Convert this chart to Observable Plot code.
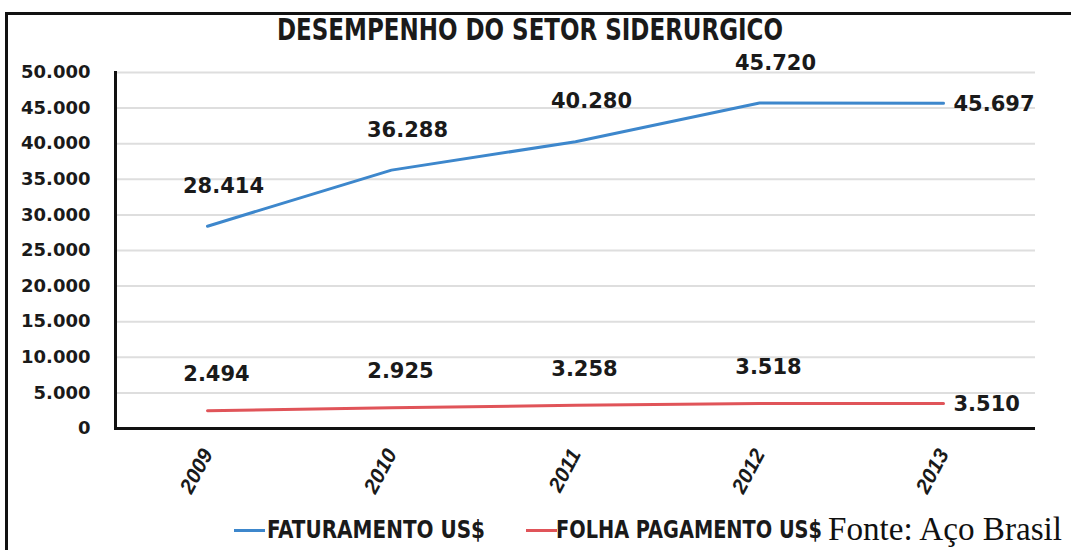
<!DOCTYPE html>
<html><head><meta charset="utf-8">
<script src="https://cdn.jsdelivr.net/npm/d3@7"></script>
<script src="https://cdn.jsdelivr.net/npm/@observablehq/plot@0.6"></script>
<style>
body{margin:0;background:#fff;}
#wrap{position:relative;width:1071px;height:550px;overflow:hidden;background:#fff;}
#frame{position:absolute;left:5px;top:12px;width:1100px;height:600px;border-top:3px solid #111;border-left:3px solid #111;}
#title{position:absolute;top:13px;left:277px;font:bold 30px "DejaVu Sans Condensed","DejaVu Sans",sans-serif;color:#1a1a1a;white-space:nowrap;line-height:1.1;transform-origin:0 0;}
#chart{position:absolute;left:0;top:0;}
.lg{position:absolute;font:bold 24px "DejaVu Sans Condensed","DejaVu Sans",sans-serif;color:#1a1a1a;white-space:nowrap;line-height:1;transform-origin:0 0;}
.sw{position:absolute;height:3px;}
#fonte{position:absolute;left:828px;top:513px;font:33px "Liberation Serif","DejaVu Serif",serif;color:#111;white-space:nowrap;line-height:1;transform-origin:0 0;}
#chart g[aria-label="y-axis tick label"] text{font-family:"DejaVu Sans",sans-serif;font-weight:bold;font-size:18px;fill:#1a1a1a;}
#chart g[aria-label="x-axis tick label"] text{font-family:"Liberation Sans","Arial",sans-serif;font-weight:bold;font-style:italic;font-size:21px;fill:#1a1a1a;}
#chart .dlabel text{font-family:"DejaVu Sans",sans-serif;font-weight:bold;font-size:21px;fill:#1a1a1a;}
</style>
</head>
<body>
<div id="wrap">
  <div id="frame"></div>
  <div id="chart"></div>
  <div id="title">DESEMPENHO DO SETOR SIDERURGICO</div>
  <div id="legend"></div>
  <div id="fonte">Fonte: Aço Brasil</div>
</div>
<script>
const years = ["2009", "2010", "2011", "2012", "2013"];
const faturamento = [28414, 36288, 40280, 45720, 45697];
const folha = [2494, 2925, 3258, 3518, 3510];
const yTicks = [0, 5000, 10000, 15000, 20000, 25000, 30000, 35000, 40000, 45000, 50000];
const seriesNames = ["FATURAMENTO US$", "FOLHA PAGAMENTO US$"];
const seriesColors = ["#3d87cc", "#e05459"];

const fmt = v => d3.format(",")(v).replace(/,/g, ".");
const rows = [];
years.forEach((y, i) => {
  rows.push({year: y, value: faturamento[i], series: seriesNames[0]});
  rows.push({year: y, value: folha[i], series: seriesNames[1]});
});
const lastYear = years[years.length - 1];
const fatRows = rows.filter(d => d.series === seriesNames[0]);
const folRows = rows.filter(d => d.series === seriesNames[1]);

const chart = Plot.plot({
  width: 1071,
  height: 550,
  marginLeft: 115,
  marginRight: 36,
  marginTop: 72,
  marginBottom: 122,
  x: {type: "point", domain: years, padding: 0.5},
  y: {domain: [0, 50000]},
  color: {domain: seriesNames, range: seriesColors},
  style: {background: "transparent", overflow: "visible"},
  marks: [
    Plot.gridY({ticks: yTicks, stroke: "#dedede", strokeOpacity: 1, strokeWidth: 2}),
    Plot.axisY({ticks: yTicks, tickSize: 0, tickPadding: 25, tickFormat: fmt, label: null}),
    Plot.axisX({tickSize: 0, tickPadding: 22, tickRotate: -62, label: null}),
    Plot.lineY(rows, {x: "year", y: "value", z: "series", stroke: "series", strokeWidth: 3}),
    Plot.text(fatRows.filter(d => d.year !== lastYear), {x: "year", y: "value", text: d => fmt(d.value), dx: 16, dy: -40, className: "dlabel"}),
    Plot.text(folRows.filter(d => d.year !== lastYear), {x: "year", y: "value", text: d => fmt(d.value), dx: 9, dy: -36, className: "dlabel"}),
    Plot.text(rows.filter(d => d.year === lastYear), {x: "year", y: "value", text: d => fmt(d.value), dx: 10, dy: 1, textAnchor: "start", className: "dlabel"}),
    Plot.frame({anchor: "left", stroke: "#111", strokeWidth: 3}),
    Plot.ruleY([0], {stroke: "#111", strokeWidth: 3})
  ]
});
document.getElementById("chart").appendChild(chart);

// fit an element's text to a target width by horizontal scaling
function fit(el, target) {
  const w = el.getBoundingClientRect().width;
  if (w > 0) el.style.transform = `scaleX(${target / w})`;
}

// legend
const legend = document.getElementById("legend");
const lgPos = [{sw: 234, tx: 267, w: 218}, {sw: 526, tx: 556, w: 266}];
seriesNames.forEach((name, i) => {
  const sw = document.createElement("div");
  sw.className = "sw";
  sw.style.left = lgPos[i].sw + "px";
  sw.style.top = "529px";
  sw.style.width = "31px";
  sw.style.background = seriesColors[i];
  legend.appendChild(sw);
  const tx = document.createElement("div");
  tx.className = "lg";
  tx.style.left = lgPos[i].tx + "px";
  tx.style.top = "518px";
  tx.textContent = name;
  legend.appendChild(tx);
  fit(tx, lgPos[i].w);
});
fit(document.getElementById("title"), 506);
fit(document.getElementById("fonte"), 234);
</script>
</body></html>
